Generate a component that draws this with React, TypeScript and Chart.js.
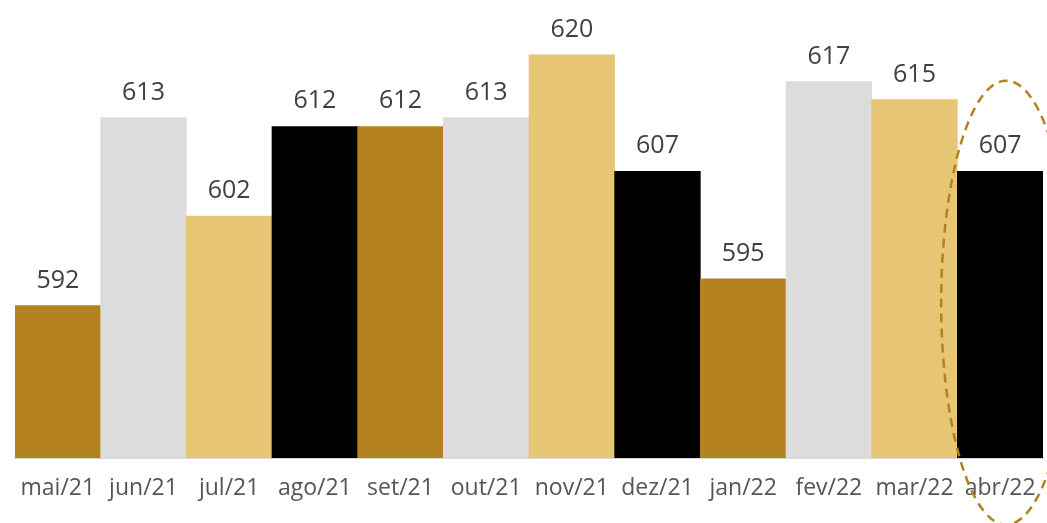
import React, { useEffect, useRef } from "react";
import { Chart, registerables } from "chart.js";

Chart.register(...registerables);

const categories = ["mai/21", "jun/21", "jul/21", "ago/21", "set/21", "out/21", "nov/21", "dez/21", "jan/22", "fev/22", "mar/22", "abr/22"];
const values = [592, 613, 602, 612, 612, 613, 620, 607, 595, 617, 615, 607];
const barColors = ["#b3821f", "#dcdcdc", "#e6c574", "#000000", "#b3821f", "#dcdcdc", "#e6c574", "#000000", "#b3821f", "#dcdcdc", "#e6c574", "#000000"];

const FONT = "'Open Sans', sans-serif";

const labelPlugin = {
  id: "valueLabels",
  afterDatasetsDraw(chart: any) {
    const ctx = chart.ctx;
    const meta = chart.getDatasetMeta(0);
    ctx.save();
    ctx.font = `25px ${FONT}`;
    ctx.fillStyle = "#404040";
    ctx.textAlign = "center";
    ctx.textBaseline = "alphabetic";
    meta.data.forEach((bar: any, i: number) => {
      ctx.fillText(String(values[i]), bar.x, bar.y - 18);
    });
    ctx.restore();
  },
};

const ellipsePlugin = {
  id: "highlightEllipse",
  afterDraw(chart: any) {
    const ctx = chart.ctx;
    const meta = chart.getDatasetMeta(0);
    const last = meta.data[meta.data.length - 1];
    if (!last) return;
    const cx = last.x + 6;
    const cy = (last.y + chart.chartArea.bottom) / 2 - 12;
    ctx.save();
    ctx.strokeStyle = "#b3821f";
    ctx.lineWidth = 2.5;
    ctx.setLineDash([9, 6]);
    ctx.beginPath();
    ctx.ellipse(cx, cy, 65, 222, 0, 0, Math.PI * 2);
    ctx.stroke();
    ctx.restore();
  },
};

export default function App() {
  const ref = useRef<HTMLCanvasElement>(null);
  useEffect(() => {
    if (!ref.current) return;
    const chart = new Chart(ref.current, {
      type: "bar",
      data: {
        labels: categories,
        datasets: [
          {
            data: values,
            backgroundColor: barColors,
            categoryPercentage: 1,
            barPercentage: 1,
            borderWidth: 0,
          },
        ],
      },
      options: {
        animation: false,
        responsive: true,
        maintainAspectRatio: false,
        layout: { padding: { left: 15, right: 4, top: 10, bottom: 0 } },
        plugins: { legend: { display: false }, tooltip: { enabled: false } },
        scales: {
          x: {
            grid: { display: true, drawOnChartArea: false, drawTicks: true, tickLength: 17, tickColor: "rgba(0,0,0,0)" },
            border: { display: true, color: "#d9d9d9", width: 2 },
            ticks: { color: "#555555", font: { family: FONT, size: 23 }, padding: 0, maxRotation: 0, autoSkip: false },
            afterFit(scale: any) {
              scale.height = 65;
            },
          },
          y: {
            display: false,
            min: 575,
            max: 625,
          },
        },
      },
      plugins: [labelPlugin, ellipsePlugin],
    });
    return () => chart.destroy();
  }, []);
  return (
    <div style={{ position: "fixed", left: 0, top: 0, width: 1047, height: 523, background: "#fff" }}>
      <canvas ref={ref} />
    </div>
  );
}
